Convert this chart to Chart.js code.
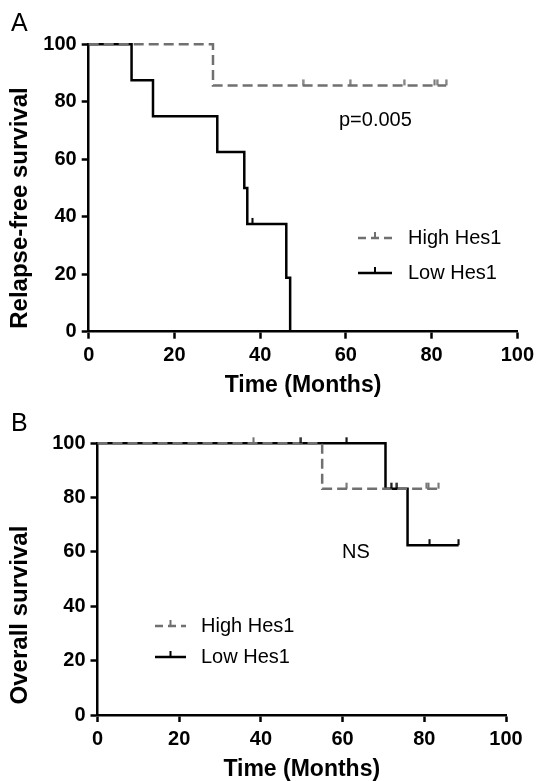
<!DOCTYPE html>
<html>
<head>
<meta charset="utf-8">
<script src="https://cdn.jsdelivr.net/npm/chart.js@4.4.1/dist/chart.umd.min.js"></script>
<style>
  html, body { margin: 0; padding: 0; background: #fff; }
  #wrap { position: relative; width: 539px; height: 781px; }
  canvas { position: absolute; left: 0; }
</style>
</head>
<body>
<div id="wrap">
  <canvas id="chartA" width="539" height="400" style="top:0"></canvas>
  <canvas id="chartB" width="539" height="381" style="top:400px"></canvas>
</div>
<script>
const FONT = '"Liberation Sans", Arial, Helvetica, sans-serif';
const GRAY = '#707070';

const seriesNames = ['High Hes1', 'Low Hes1'];
const xTicks = [0, 20, 40, 60, 80, 100];
const yTicks = [0, 20, 40, 60, 80, 100];

// A: relapse-free survival (months, %)
const rfsHighTime = [0, 29, 83.4];
const rfsHighSurv = [100, 85.7, 85.7];
const rfsHighCensor = [50, 61, 73.6, 80.7, 81.3, 83.4];
const rfsLowTime = [0, 10, 15, 30, 36.3, 37, 46.1, 47];
const rfsLowSurv = [100, 87.5, 75, 62.5, 50, 37.5, 18.75, 0];
const rfsLowCensor = [38.2];

// B: overall survival
const osHighTime = [0, 55, 83.5];
const osHighSurv = [100, 83.3, 83.3];
const osHighCensor = [38.2, 61, 80.5, 81, 83.5];
const osLowTime = [0, 70.5, 75.9, 88.4];
const osLowSurv = [100, 83.3, 62.5, 62.5];
const osLowCensor = [49.8, 61, 71.9, 73.3, 81.3, 88.4];

// value of the step curve at time t
function survAt(times, surv, t) {
  let s = surv[0];
  for (let i = 0; i < times.length; i++) {
    if (times[i] <= t) s = surv[i];
  }
  return s;
}

// small vertical tick sitting on top of the line
function tickImg(color) {
  const c = document.createElement('canvas');
  c.width = 3;
  c.height = 14;
  const g = c.getContext('2d');
  g.fillStyle = color;
  g.fillRect(0.5, 1, 2, 6);
  return c;
}

function curve(times, surv, color, dash) {
  return {
    type: 'line',
    data: times.map((t, i) => ({ x: t, y: surv[i] })),
    stepped: true,
    borderColor: color,
    borderWidth: 2.5,
    borderDash: dash,
    pointRadius: 0,
    fill: false,
    clip: false
  };
}

function censors(cens, times, surv, color) {
  return {
    type: 'scatter',
    data: cens.map(t => ({ x: t, y: survAt(times, surv, t) })),
    pointStyle: tickImg(color),
    pointRadius: 4,
    showLine: false,
    clip: false
  };
}

function labelsPlugin(o) {
  return {
    id: 'labels',
    afterDraw(chart) {
      const ctx = chart.ctx;
      ctx.save();
      ctx.fillStyle = '#000';
      ctx.textBaseline = 'middle';
      ctx.textAlign = 'left';
      ctx.font = '25px ' + FONT;
      ctx.fillText(o.panel, 11, o.panelY);
      ctx.font = '20px ' + FONT;
      ctx.fillText(o.note, o.noteX, o.noteY);
      // legend
      const L = o.legend;
      [0, 1].forEach(i => {
        const y = L.y[i];
        const color = i === 0 ? GRAY : '#000';
        ctx.strokeStyle = color;
        ctx.lineWidth = 2.5;
        ctx.setLineDash(i === 0 ? [8, 5] : []);
        ctx.beginPath();
        ctx.moveTo(L.x0, y);
        ctx.lineTo(L.x1, y);
        ctx.stroke();
        ctx.setLineDash([]);
        ctx.fillStyle = color;
        ctx.fillRect((L.x0 + L.x1) / 2 - 1, y - 6, 2, 6);
        ctx.fillStyle = '#000';
        ctx.fillText(seriesNames[i], L.tx, y);
      });
      // y axis title, rotated
      ctx.translate(o.yTitleX, o.yTitleY);
      ctx.rotate(-Math.PI / 2);
      ctx.textAlign = 'center';
      ctx.font = 'bold 24px ' + FONT;
      ctx.fillText(o.yTitle, 0, 0);
      ctx.restore();
    }
  };
}

function makeChart(id, o) {
  return new Chart(document.getElementById(id), {
    data: {
      datasets: [
        censors(o.highCensor, o.highTime, o.highSurv, GRAY),
        censors(o.lowCensor, o.lowTime, o.lowSurv, '#000'),
        curve(o.highTime, o.highSurv, GRAY, [10, 5]),
        curve(o.lowTime, o.lowSurv, '#000', [])
      ]
    },
    options: {
      responsive: false,
      animation: false,
      events: [],
      layout: { autoPadding: false, padding: o.pad },
      plugins: { legend: { display: false }, tooltip: { enabled: false } },
      scales: {
        x: {
          type: 'linear', min: 0, max: 100,
          afterBuildTicks: s => { s.ticks = xTicks.map(v => ({ value: v })); },
          afterFit: s => { s.height = o.xHeight; },
          ticks: { color: '#000', autoSkip: false, maxRotation: 0, padding: 5,
                   font: { family: FONT, size: 20, weight: 'bold' } },
          grid: { drawOnChartArea: false, tickLength: 7, tickWidth: 2.5, tickColor: '#000' },
          border: { color: '#000', width: 2.5 },
          title: { display: true, text: 'Time (Months)', color: '#000',
                   padding: { top: 0, bottom: o.xTitlePad },
                   font: { family: FONT, size: 23, weight: 'bold', lineHeight: 1.2 } }
        },
        y: {
          type: 'linear', min: 0, max: 100,
          afterBuildTicks: s => { s.ticks = yTicks.map(v => ({ value: v })); },
          afterFit: s => { s.width = o.yWidth; },
          ticks: { color: '#000', padding: 5,
                   font: { family: FONT, size: 20, weight: 'bold' } },
          grid: { drawOnChartArea: false, tickLength: 7, tickWidth: 2.5, tickColor: '#000' },
          border: { color: '#000', width: 2.5 }
        }
      }
    },
    plugins: [labelsPlugin(o)]
  });
}

makeChart('chartA', {
  highTime: rfsHighTime, highSurv: rfsHighSurv, highCensor: rfsHighCensor,
  lowTime: rfsLowTime, lowSurv: rfsLowSurv, lowCensor: rfsLowCensor,
  yTitle: 'Relapse-free survival', yTitleX: 20, yTitleY: 208,
  pad: { left: 0, top: 44.3, right: 19, bottom: 0 },
  yWidth: 88.7, xHeight: 68.3, xTitlePad: 1,
  panel: 'A', panelY: 24,
  note: 'p=0.005', noteX: 339, noteY: 120,
  legend: { x0: 358, x1: 392, tx: 408, y: [238, 273] }
});

makeChart('chartB', {
  highTime: osHighTime, highSurv: osHighSurv, highCensor: osHighCensor,
  lowTime: osLowTime, lowSurv: osLowSurv, lowCensor: osLowCensor,
  yTitle: 'Overall survival', yTitleX: 20, yTitleY: 215,
  pad: { left: 0, top: 43.3, right: 33, bottom: 0 },
  yWidth: 97.5, xHeight: 66, xTitlePad: -2,
  panel: 'B', panelY: 24,
  note: 'NS', noteX: 342, noteY: 152,
  legend: { x0: 155, x1: 186, tx: 201, y: [226, 257] }
});
</script>
</body>
</html>
